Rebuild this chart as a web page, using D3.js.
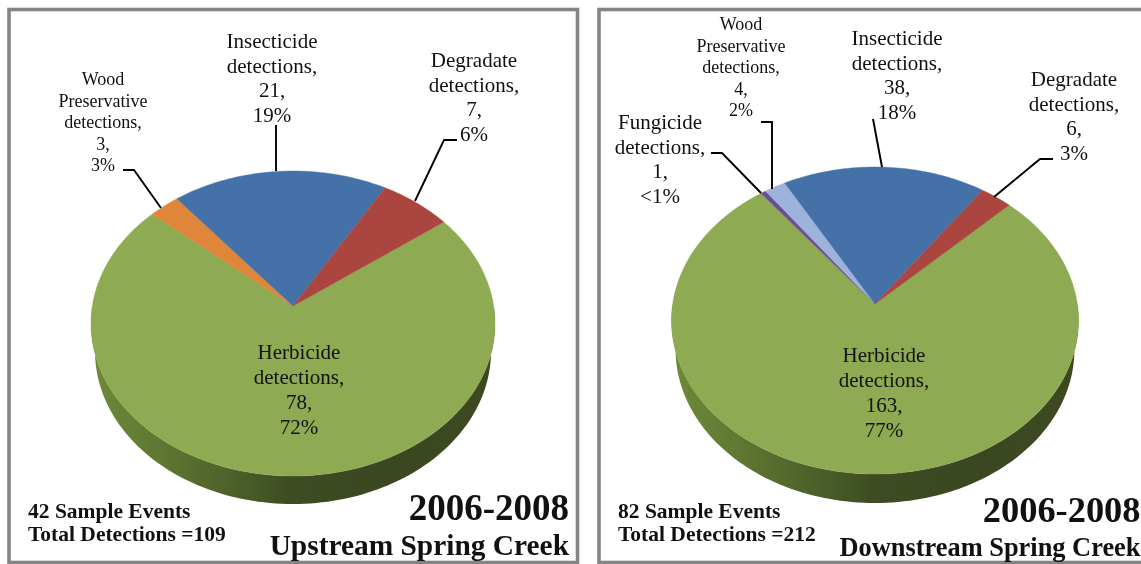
<!DOCTYPE html>
<html><head><meta charset="utf-8">
<script src="https://cdn.jsdelivr.net/npm/d3@7"></script>
<style>html,body{margin:0;padding:0;background:#fff}svg{display:block;filter:blur(.35px)}text{font-family:"Liberation Serif",serif;fill:#111}</style>
</head><body><svg id="c" width="1141" height="564"></svg>
<script>
const upCategories=["Herbicide","Wood Preservative","Insecticide","Degradate"];
const upValues=[78,3,21,7];
const upPercents=["72%","3%","19%","6%"];
const upColors=["#8EAA52","#E0863A","#4472A8","#AA4540"];
const downCategories=["Herbicide","Fungicide","Wood Preservative","Insecticide","Degradate"];
const downValues=[163,1,4,38,6];
const downPercents=["77%","<1%","2%","18%","3%"];
const downColors=["#8EAA52","#6B4F96","#9DB3DC","#4472A8","#AA4540"];

const svg=d3.select("#c");
const defs=svg.append("defs");
const g0=defs.append("linearGradient").attr("id","wall");
[[0,"#6e8a38"],[.15,"#617a33"],[.35,"#4c602a"],[.5,"#3d4c23"],[.75,"#3a4721"],[1,"#3d4a20"]]
 .forEach(s=>g0.append("stop").attr("offset",s[0]).attr("stop-color",s[1]));

function panel(o){
  const G=svg.append("g");
  G.append("rect").attr("x",o.frame[0]).attr("y",o.frame[1]).attr("width",o.frame[2]).attr("height",o.frame[3])
    .attr("fill","#fff").attr("stroke","#848484").attr("stroke-width",3.6);
  const {cx,cy,rx,up,down,depth}=o;
  const p=(down-up)/(down+up), b=down*(1-p), a=rx*Math.sqrt(1-p*p);
  const xs=d3.scaleLinear().domain([-1,1]).range([-a,a]);
  const ys=d3.scaleLinear().domain([-1,1]).range([-b,b]);
  const proj=t=>{const u=Math.sin(t),v=-Math.cos(t),w=1-p*v;return [cx+xs(u)/w,cy+ys(v)/w];};
  const pie=d3.pie().sort(null).startAngle(o.start).endAngle(o.start+2*Math.PI);
  const arcs=pie(o.values);
  const N=120;
  const front=d3.range(N+1).map(i=>proj(Math.PI/2+Math.PI*i/N));
  const sh=o.shrink;
  const bottom=front.map(q=>[cx+(q[0]-cx)*sh,q[1]+depth]).reverse();
  const line=d3.line();
  G.append("path").attr("d",line(front.concat(bottom))+"Z").attr("fill","url(#wall)");
  G.selectAll("path.s").data(arcs).join("path").attr("class","s")
    .attr("fill",(d,i)=>o.colors[i])
    .attr("stroke",(d,i)=>o.colors[i]).attr("stroke-width",.4)
    .attr("d",d=>{
      const n=Math.max(4,Math.ceil((d.endAngle-d.startAngle)/0.02));
      const pts=d3.range(n+1).map(i=>proj(d.startAngle+(d.endAngle-d.startAngle)*i/n));
      return line([[cx,cy],...pts])+"Z";
    });
  G.selectAll("path.l").data(o.leaders).join("path").attr("class","l")
    .attr("d",line).attr("fill","none").attr("stroke","#000").attr("stroke-width",1.9);
  o.labels.forEach(l=>{
    const i=l.i, name=o.categories[i];
    const lines=(name==="Wood Preservative"?["Wood","Preservative"]:[name]).concat(["detections,",o.values[i]+",",o.percents[i]]);
    const t=G.append("text").attr("text-anchor","middle").attr("font-size",l.fs);
    lines.forEach((s,k)=>t.append("tspan").attr("x",l.x).attr("y",l.y+k*l.lh).text(s));
  });
  o.notes.forEach(n=>G.append("text").attr("x",n.x).attr("y",n.y).attr("font-size",n.fs).attr("font-weight","bold")
    .attr("text-anchor",n.a||"start").attr("fill","#000").text(n.t));
}

panel({frame:[9,9.5,568.5,553],cx:293,cy:306,rx:202,up:135,down:170,depth:28,shrink:.98,start:53.4*Math.PI/180,
  categories:upCategories,values:upValues,percents:upPercents,colors:upColors,
  leaders:[[[276,125],[276,171]],[[457,140],[444,140],[415,201]],[[123,170],[134,170],[161,208]]],
  labels:[{i:0,x:299,y:359,fs:21,lh:25},{i:2,x:272,y:48,fs:21,lh:24.7},{i:3,x:474,y:67,fs:21,lh:24.7},{i:1,x:103,y:85,fs:18,lh:21.6}],
  notes:[{x:28,y:518,fs:21.5,t:"42 Sample Events"},{x:28,y:541,fs:21.5,t:"Total Detections =109"},
         {x:569,y:520,fs:37,a:"end",t:"2006-2008"},{x:569,y:555,fs:29.4,a:"end",t:"Upstream Spring Creek"}]});

panel({frame:[599,9.5,600,553],cx:875,cy:304,rx:203.5,up:137,down:170,depth:29,shrink:.98,start:45.5*Math.PI/180,
  categories:downCategories,values:downValues,percents:downPercents,colors:downColors,
  leaders:[[[873,119],[882,167]],[[1053,159],[1040,159],[994,197]],[[761,122],[772,122],[772,189]],[[711,153],[722,153],[761,193]]],
  labels:[{i:0,x:884,y:362,fs:21,lh:25},{i:3,x:897,y:45,fs:21,lh:24.7},{i:4,x:1074,y:86,fs:21,lh:24.5},{i:2,x:741,y:30,fs:18,lh:21.6},{i:1,x:660,y:129,fs:21,lh:24.7}],
  notes:[{x:618,y:518,fs:21.5,t:"82 Sample Events"},{x:618,y:541,fs:21.5,t:"Total Detections =212"},
         {x:1140.5,y:522,fs:36.4,a:"end",t:"2006-2008"},{x:1140.5,y:556,fs:26.4,a:"end",t:"Downstream Spring Creek"}]});
</script></body></html>
